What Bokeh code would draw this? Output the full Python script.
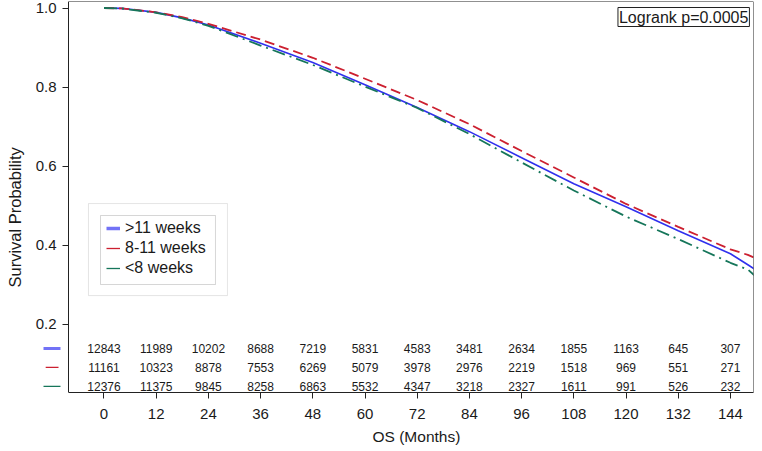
from bokeh.plotting import figure
from bokeh.models import (Range1d, FixedTicker, PrintfTickFormatter, Legend, LegendItem,
                          Label, BoxAnnotation, ColumnDataSource, LinearAxis, Title)
from bokeh.core.properties import value
from bokeh.embed import file_html
from bokeh.resources import INLINE

# ---------------- data ----------------
groups = [">11 weeks", "8-11 weeks", "<8 weeks"]
months = [0, 4, 6, 12, 18, 24, 36, 48, 60, 72, 84, 96, 108, 120, 132, 144, 148, 150.8]
surv_gt11 = [1.0, 0.999, 0.997, 0.989, 0.975, 0.957, 0.911, 0.862, 0.806, 0.748, 0.687,
             0.621, 0.555, 0.497, 0.436, 0.378, 0.350, 0.330]
surv_8_11 = [1.0, 0.999, 0.997, 0.989, 0.977, 0.960, 0.920, 0.874, 0.821, 0.767, 0.706,
             0.638, 0.571, 0.504, 0.446, 0.389, 0.375, 0.362]
surv_lt8 = [1.0, 0.999, 0.996, 0.988, 0.974, 0.955, 0.905, 0.856, 0.801, 0.747, 0.681,
            0.609, 0.538, 0.472, 0.415, 0.355, 0.338, 0.310]

risk_times = [0, 12, 24, 36, 48, 60, 72, 84, 96, 108, 120, 132, 144]
risk_gt11 = [12843, 11989, 10202, 8688, 7219, 5831, 4583, 3481, 2634, 1855, 1163, 645, 307]
risk_8_11 = [11161, 10323, 8878, 7553, 6269, 5079, 3978, 2976, 2219, 1518, 969, 551, 271]
risk_lt8 = [12376, 11375, 9845, 8258, 6863, 5532, 4347, 3218, 2327, 1611, 991, 526, 232]

x_ticks = [0, 12, 24, 36, 48, 60, 72, 84, 96, 108, 120, 132, 144]
y_ticks = [0.2, 0.4, 0.6, 0.8, 1.0]
x_title = "OS (Months)"
y_title = "Survival Probability"
pvalue_text = "Logrank p=0.0005"

# ---------------- style ----------------
FONT = "Liberation Sans"
TXT = "#1a1a1a"
AX = "#222222"
BLUE = "#3030ee"
RED = "#cc2030"
GREEN = "#16765a"
X0, X1 = -8.16, 149.3          # axis box (left/right edges in months)
Y0, Y1 = 0.0266, 1.0165        # axis box (bottom/top)

p = figure(width=754, height=449, output_backend="svg", toolbar_location=None,
           x_range=Range1d(-17.81, X1), y_range=Range1d(Y0, Y1),
           min_border_left=26, min_border_right=1, min_border_top=1, min_border_bottom=57)
p.background_fill_color = "white"
p.border_fill_color = "white"
p.outline_line_color = None
p.grid.visible = False

# curves
p.line(months, surv_gt11, line_color=BLUE, line_width=1.6)
p.line(months, surv_8_11, line_color=RED, line_width=1.8, line_dash="10 5")
p.line(months, surv_lt8, line_color=GREEN, line_width=1.8, line_dash="13 5 2 5")

# at-risk table rows
row_y = [0.138, 0.090, 0.042]
for counts, yy in zip([risk_gt11, risk_8_11, risk_lt8], row_y):
    src = ColumnDataSource(dict(x=risk_times, y=[yy] * len(risk_times),
                                t=[str(c) for c in counts]))
    p.text("x", "y", text="t", source=src, text_font=value(FONT), text_font_size="12px",
           text_color=TXT, text_align="center", text_baseline="middle")

# row keys to the left of the y axis
key_src = ColumnDataSource(dict(x0=[-13.9, -13.4, -13.9], x1=[-10.0, -10.45, -10.0],
                                y=row_y, c=["#7272f6", RED, GREEN], w=[3.2, 1.3, 1.3]))
p.segment(x0="x0", y0="y", x1="x1", y1="y", source=key_src, line_color="c", line_width="w")

# legend boxes (outer light frame + inner frame)
p.add_layout(BoxAnnotation(left=-3.56, right=28.38, top=0.505, bottom=0.272,
                           fill_alpha=0, line_color="#aaaaaa", line_width=1, level="underlay"))
p.add_layout(BoxAnnotation(left=-0.80, right=25.63, top=0.4747, bottom=0.300,
                           fill_alpha=0, line_color="#777777", line_width=1, level="underlay"))

# legend (hidden renderers so the swatches look like the reference)
r1 = p.line(months, surv_gt11, line_color="#7272f6", line_width=3.5, visible=False)
r2 = p.line(months, surv_8_11, line_color=RED, line_width=1.3, visible=False)
r3 = p.line(months, surv_lt8, line_color=GREEN, line_width=1.3, visible=False)
legend = Legend(items=[LegendItem(label=groups[0], renderers=[r1]),
                       LegendItem(label=groups[1], renderers=[r2]),
                       LegendItem(label=groups[2], renderers=[r3])],
                location=(80, 114), orientation="vertical",
                label_text_font=FONT, label_text_font_size="16px", label_text_color=TXT,
                glyph_width=14, glyph_height=20, label_height=20, label_standoff=5,
                spacing=0, padding=0, margin=0, inactive_fill_alpha=0,
                border_line_color=None, background_fill_alpha=0)
p.add_layout(legend, "center")

# logrank label
p.add_layout(Label(x=148.36, y=1.0013, text=pvalue_text, text_font=FONT, text_font_size="16px",
                   text_color=TXT, text_align="right", text_baseline="top",
                   border_line_color=AX, border_line_width=1, padding=1,
                   background_fill_color="white"))

# axes
p.xaxis.ticker = FixedTicker(ticks=x_ticks)
p.xaxis.bounds = (X0, X1)
p.yaxis.ticker = FixedTicker(ticks=y_ticks)
p.yaxis.fixed_location = X0
p.yaxis.formatter = PrintfTickFormatter(format="%.1f")
for ax in (p.xaxis[0], p.yaxis[0]):
    ax.axis_line_color = AX
    ax.major_tick_line_color = AX
    ax.minor_tick_line_color = None
    ax.major_tick_in = 0
    ax.major_tick_out = 6
    ax.major_label_text_font = FONT
    ax.major_label_text_font_size = "15px"
    ax.major_label_text_color = TXT
p.xaxis.major_label_standoff = 10
p.yaxis.major_label_standoff = 6

# axis titles (placed so they centre on the axis box like the reference)
p.add_layout(Title(text=x_title, align="left", offset=346, standoff=9,
                   text_font=FONT, text_font_size="15.5px", text_font_style="normal",
                   text_color=TXT), "below")
p.add_layout(Title(text=y_title, align="left", offset=105, standoff=6,
                   text_font=FONT, text_font_size="16.5px", text_font_style="normal",
                   text_color=TXT), "left")

# top and right edges of the axis box
top_ax = LinearAxis(ticker=FixedTicker(ticks=[]), bounds=(X0, X1), fixed_location=Y1,
                    axis_line_color=AX, major_tick_line_color=None, minor_tick_line_color=None,
                    major_label_text_font_size="0px")
right_ax = LinearAxis(ticker=FixedTicker(ticks=[]), fixed_location=X1,
                      axis_line_color=AX, major_tick_line_color=None, minor_tick_line_color=None,
                      major_label_text_font_size="0px")
p.add_layout(top_ax, "above")
p.add_layout(right_ax, "right")

open("out.html", "w").write(file_html(p, INLINE))
